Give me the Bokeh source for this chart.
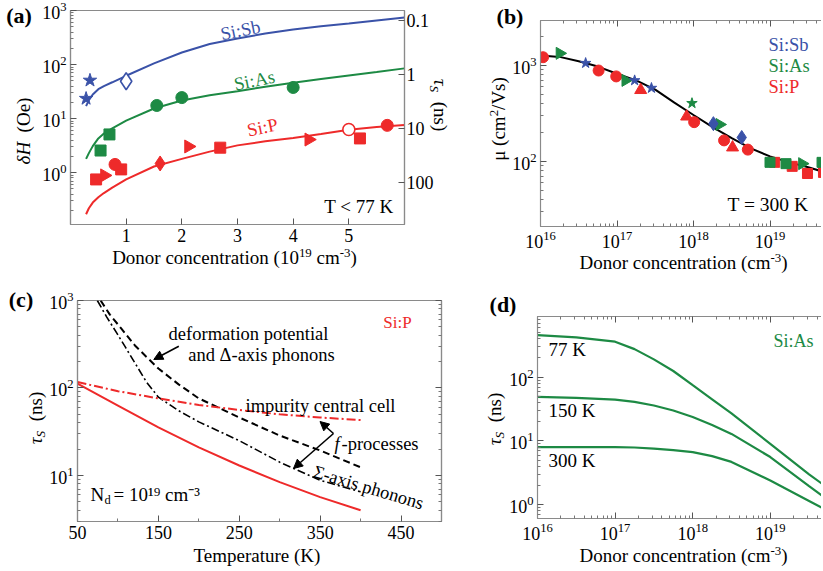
import math
from bokeh.plotting import figure
from bokeh.models import (Range1d, FixedTicker, LogAxis, LogScale, Label, Arrow,
                          NormalHead, CustomJSTickFormatter, Div, Spacer)
from bokeh.layouts import column, row
from bokeh.embed import file_html
from bokeh.resources import INLINE

FONT = "Liberation Serif"
BLUE = "#3a52a8"
GREEN = "#1d8a44"
RED = "#ee2a2a"
AXC = "#8a8a8a"

# ---------------- data: panel (a)  (x in 1e19 cm^-3, dH in Oe) ----------------
a_curve_x = [0.28, 0.33, 0.4, 0.5, 0.6, 0.75, 1.0, 1.5, 2.0, 2.5, 3.0, 3.5, 4.0, 4.5, 5.0, 5.5, 6.0]
a_sb_curve = [17, 22, 28, 35, 40, 47, 62, 105, 167, 240, 303, 375, 446, 510, 575, 655, 742]
a_as_curve = [1.8, 2.3, 3.1, 4.3, 5.3, 6.6, 9.2, 15.4, 21.6, 27, 32, 39, 46, 54, 63, 73, 85]
a_p_curve = [0.17, 0.22, 0.28, 0.35, 0.42, 0.53, 0.75, 1.3, 1.8, 2.45, 3.2, 3.8, 4.4, 5.2, 6.2, 7.0, 7.6]

a_sb_star_x = [0.28, 0.35]
a_sb_star_y = [23.5, 51]
a_sb_odiam_x = [1.0]
a_sb_odiam_y = [49]
a_as_circ_x = [1.55, 2.0, 4.0]
a_as_circ_y = [17.5, 24.5, 37.7]
a_as_sq_x = [0.54, 0.70]
a_as_sq_y = [2.57, 5.1]
a_p_sq_x = [0.46, 0.91, 2.69, 5.2]
a_p_sq_y = [0.75, 1.15, 2.9, 4.3]
a_p_tri_x = [0.61, 2.12, 4.28]
a_p_tri_y = [0.89, 3.05, 4.1]
a_p_circ_x = [0.80, 5.69]
a_p_circ_y = [1.42, 7.5]
a_p_diam_x = [1.61]
a_p_diam_y = [1.48]
a_p_ocirc_x = [5.0]
a_p_ocirc_y = [6.3]
a_tau_factor = 65.0  # tau_s (ns) = factor / dH (Oe)
a_x_ticks = [1, 2, 3, 4, 5]
a_tau_ticks = [0.1, 1, 10, 100]

# ---------------- data: panel (b)  mobility at 300 K ----------------
b_curve_n = [1e16, 1.78e16, 3.16e16, 5.62e16, 1e17, 1.78e17, 3.16e17, 5.62e17, 1e18,
             1.78e18, 3.16e18, 5.62e18, 1e19, 1.78e19, 3.16e19, 5e19]
b_curve_mu = [1275, 1230, 1110, 975, 820, 700, 560, 410, 305, 228, 175, 137, 113, 98, 87, 78]
b_p_circ_n = [1.08e16, 5.75e16, 9.77e16, 1.02e18, 2.51e18, 5.13e18]
b_p_circ_mu = [1220, 887, 770, 257, 166, 133]
b_p_tri_n = [2.04e17, 8.13e17, 3.24e18]
b_p_tri_mu = [555, 294, 140]
b_p_sq_n = [1.15e19, 1.95e19, 3.09e19, 5.0e19]
b_p_sq_mu = [98, 89, 75, 77]
b_as_tri_n = [1.78e16, 1.29e17, 2.19e18, 2.63e19]
b_as_tri_mu = [1340, 700, 243, 95]
b_as_star_n = [9.55e17]
b_as_star_mu = [405]
b_as_sq_n = [1.0e19, 1.62e19, 4.79e19]
b_as_sq_mu = [98, 95, 98]
b_sb_star_n = [3.89e16, 1.70e17, 2.82e17]
b_sb_star_mu = [1060, 700, 583]
b_sb_diam_n = [1.82e18, 4.27e18]
b_sb_diam_mu = [248, 178]

# ---------------- data: panel (c)  Si:P, Nd = 1e19 ----------------
c_def_t = [78.6, 90, 104, 121, 135, 150, 175, 200, 250, 300, 350, 400]
c_def_tau = [1000, 690, 480, 306, 228, 167, 110, 76, 46, 28.6, 19.3, 12.4]
c_sig_t = [74.5, 86, 99, 110, 120, 135, 150, 175, 200, 250, 300, 350, 400]
c_sig_tau = [1000, 650, 418, 285, 200, 118, 78.5, 55, 41, 25, 14.2, 8.8, 6.5]
c_t = [50, 100, 150, 200, 250, 300, 350, 400]
c_imp_tau = [117, 92, 76, 64, 56, 50, 46, 43]
c_tot_tau = [112, 63, 35.5, 21, 13, 8.4, 5.65, 4.0]
c_x_ticks = [50, 150, 250, 350, 450]
c_x_minor = [100, 200, 300, 400, 500]

# ---------------- data: panel (d)  Si:As ----------------
d_n = [1e16, 3.16e16, 1e17, 1.78e17, 3.16e17, 5.62e17, 1e18, 1.78e18, 3.16e18, 1e19, 3.16e19, 5e19]
d_77 = [457, 420, 360, 275, 190, 125, 75, 45, 27, 9.0, 3.0, 2.0]
d_150 = [49, 47.5, 44.6, 41, 36, 30, 23.7, 17.8, 12.9, 5.6, 1.96, 1.3]
d_300 = [8.0, 8.0, 8.0, 7.9, 7.6, 7.2, 6.7, 5.8, 4.7, 2.4, 1.15, 0.85]

# ---------------- page geometry (page has no margin; px from top-left) ----------------
PAGE_W, PAGE_H = 821, 567
LEFT_W = 478
ROW1_H = 282


# ---------------- helpers ----------------
def log_minors(lo, hi):
    return [m * 10.0 ** e for e in range(lo, hi) for m in range(2, 10)]


def conv_factory(fx0, fx1, fy0, fy1, xr, yr, xlog, ylog):
    def f(rx, ry):
        tx = (rx - fx0) / (fx1 - fx0)
        ty = (fy1 - ry) / (fy1 - fy0)
        if xlog:
            x = 10 ** (math.log10(xr[0]) + tx * (math.log10(xr[1]) - math.log10(xr[0])))
        else:
            x = xr[0] + tx * (xr[1] - xr[0])
        if ylog:
            y = 10 ** (math.log10(yr[0]) + ty * (math.log10(yr[1]) - math.log10(yr[0])))
        else:
            y = yr[0] + ty * (yr[1] - yr[0])
        return x, y
    return f


def txt(p, conv, rx, ry, text, size=18.5, color="black", align="left",
        baseline="middle", angle=0.0, style="normal"):
    x, y = conv(rx, ry)
    p.add_layout(Label(x=x, y=y, text=text, text_font=FONT,
                       text_font_size=f"{size}px", text_color=color,
                       text_align=align, text_baseline=baseline, angle=angle,
                       text_font_style=style))


def style_axis(ax, hide_labels=False):
    ax.axis_line_color = AXC
    ax.axis_line_width = 1.2
    ax.major_tick_line_color = "#555555"
    ax.minor_tick_line_color = "#777777"
    ax.major_tick_in = 6
    ax.major_tick_out = 0
    ax.minor_tick_in = 3
    ax.minor_tick_out = 0
    ax.major_label_text_font = FONT
    ax.major_label_text_font_size = "18px"
    ax.major_label_text_color = "black"
    ax.major_label_standoff = 4
    if hide_labels:
        ax.formatter = CustomJSTickFormatter(code="return '';")
        ax.major_label_text_font_size = "1px"
        ax.major_label_standoff = 0


def make_fig(w, h, xr, yr, xlog, ylog, bl, br, bt, bb):
    p = figure(width=w, height=h, x_range=Range1d(*xr), y_range=Range1d(*yr),
               x_axis_type="log" if xlog else "linear",
               y_axis_type="log" if ylog else "linear",
               output_backend="svg", toolbar_location=None,
               min_border_left=bl, min_border_right=br,
               min_border_top=bt, min_border_bottom=bb)
    p.grid.visible = False
    p.outline_line_color = AXC
    p.outline_line_width = 1.2
    p.background_fill_color = "white"
    p.border_fill_color = "white"
    for ax in p.xaxis + p.yaxis:
        style_axis(ax)
    return p


def place(fig, left, top):
    return row(fig, styles={"position": "absolute", "left": f"{left}px",
                            "top": f"{top}px"})


def html_text(cx, cy, html, size=19, rot=0, weight="normal", color="black"):
    return ('<div style="position:absolute;left:%.1fpx;top:%.1fpx;'
            'transform:translate(-50%%,-50%%) rotate(%ddeg);white-space:nowrap;'
            "font-family:'Liberation Serif',serif;font-size:%.1fpx;font-weight:%s;"
            'color:%s;line-height:1;margin:0;padding:0;">%s</div>'
            % (cx, cy, rot, size, weight, color, html))


SUP = '<span style="font-size:0.68em;vertical-align:0.5em;line-height:0">%s</span>'
SUB = '<span style="font-size:0.7em;vertical-align:-0.3em;line-height:0">%s</span>'
TAU_LABEL = "<i>τ" + SUB % "S" + "</i>&nbsp;&nbsp;(ns)"

# ================= panel (a) =================
A_XR = (0, 6)
A_YR = (0.11, 1000)
pa = make_fig(LEFT_W, ROW1_H, A_XR, A_YR, False, True, 70, LEFT_W - 404, 10, ROW1_H - 224)
ca = conv_factory(70, 404, 10, 224, A_XR, A_YR, False, True)
pa.xaxis.ticker = FixedTicker(ticks=a_x_ticks, minor_ticks=[])
pa.yaxis.ticker = FixedTicker(ticks=[1, 10, 100, 1000], minor_ticks=log_minors(-1, 3))
pa.extra_y_ranges = {"tau": Range1d(a_tau_factor / A_YR[0], a_tau_factor / A_YR[1])}
pa.extra_y_scales = {"tau": LogScale()}
rax = LogAxis(y_range_name="tau", ticker=FixedTicker(ticks=a_tau_ticks, minor_ticks=[]))
style_axis(rax)
rax.formatter = CustomJSTickFormatter(code="return tick >= 1 ? tick.toFixed(0) : tick.toFixed(1);")
rax.major_label_standoff = 2
pa.add_layout(rax, "right")

pa.line(a_curve_x, a_sb_curve, line_color=BLUE, line_width=2)
pa.line(a_curve_x, a_as_curve, line_color=GREEN, line_width=2)
pa.line(a_curve_x, a_p_curve, line_color=RED, line_width=2)
pa.scatter(a_sb_star_x, a_sb_star_y, marker="star", size=14, color=BLUE)
pa.scatter(a_sb_odiam_x, a_sb_odiam_y, marker="diamond", size=17, fill_color="white",
           line_color=BLUE, line_width=1.6)
pa.scatter(a_as_circ_x, a_as_circ_y, marker="circle", size=12, color=GREEN)
pa.scatter(a_as_sq_x, a_as_sq_y, marker="square", size=11, color=GREEN)
pa.scatter(a_p_sq_x, a_p_sq_y, marker="square", size=11, color=RED)
pa.scatter(a_p_tri_x, a_p_tri_y, marker="triangle", size=13, angle=-math.pi / 2, color=RED)
pa.scatter(a_p_circ_x, a_p_circ_y, marker="circle", size=12, color=RED)
pa.scatter(a_p_diam_x, a_p_diam_y, marker="diamond", size=15, color=RED)
pa.scatter(a_p_ocirc_x, a_p_ocirc_y, marker="circle", size=12, fill_color="white",
           line_color=RED, line_width=1.6)

txt(pa, ca, 240, 30, "Si:Sb", color=BLUE, align="center", angle=0.2)
txt(pa, ca, 254, 80, "Si:As", color=GREEN, align="center", angle=0.2)
txt(pa, ca, 262, 127, "Si:P", color=RED, align="center", angle=0.2)
txt(pa, ca, 393, 206, "T < 77 K", size=19, align="right")

# ================= panel (b) =================
B_W = PAGE_W - LEFT_W
B_XR = (1e16, 10 ** (16 + (PAGE_W - 540) / 76.5))
B_YR = (10 ** 1.323, 10 ** 3.469)
pb = make_fig(B_W, ROW1_H, B_XR, B_YR, True, True, 540 - LEFT_W, 0, 20, ROW1_H - 226)
cb = conv_factory(540, PAGE_W, 20, 226, B_XR, B_YR, True, True)
pb.outline_line_color = None
pb.xaxis.ticker = FixedTicker(ticks=[1e16, 1e17, 1e18, 1e19], minor_ticks=log_minors(16, 20))
pb.yaxis.ticker = FixedTicker(ticks=[100, 1000], minor_ticks=log_minors(1, 4))
tb = LogAxis(ticker=FixedTicker(ticks=[1e16, 1e17, 1e18, 1e19], minor_ticks=log_minors(16, 20)))
style_axis(tb, hide_labels=True)
pb.add_layout(tb, "above")

pb.line(b_curve_n, b_curve_mu, line_color="black", line_width=2)
pb.scatter(b_p_circ_n, b_p_circ_mu, marker="circle", size=11, color=RED)
pb.scatter(b_p_tri_n, b_p_tri_mu, marker="triangle", size=12, color=RED)
pb.scatter(b_p_sq_n, b_p_sq_mu, marker="square", size=10, color=RED)
pb.scatter(b_as_tri_n, b_as_tri_mu, marker="triangle", size=12, angle=-math.pi / 2, color=GREEN)
pb.scatter(b_as_star_n, b_as_star_mu, marker="star", size=11, color=GREEN)
pb.scatter(b_as_sq_n, b_as_sq_mu, marker="square", size=10, color=GREEN)
pb.scatter(b_sb_star_n, b_sb_star_mu, marker="star", size=11, color=BLUE)
pb.scatter(b_sb_diam_n, b_sb_diam_mu, marker="diamond", size=14, color=BLUE)

txt(pb, cb, 768, 44, "Si:Sb", color=BLUE)
txt(pb, cb, 768, 65, "Si:As", color=GREEN)
txt(pb, cb, 768, 86, "Si:P", color=RED)
txt(pb, cb, 727, 204, "T = 300 K", size=19.5)

# ================= panel (c) =================
ROW2_H = PAGE_H - ROW1_H
C_XR = (50, 500)
C_YR = (10 ** 0.474, 1000)
pc = make_fig(LEFT_W, ROW2_H, C_XR, C_YR, False, True, 77, LEFT_W - 441,
              300 - ROW1_H, PAGE_H - 521)
cc = conv_factory(77, 441, 300, 521, C_XR, C_YR, False, True)
pc.xaxis.ticker = FixedTicker(ticks=c_x_ticks, minor_ticks=c_x_minor)
pc.yaxis.ticker = FixedTicker(ticks=[10, 100, 1000], minor_ticks=log_minors(0, 3))
rc = LogAxis(ticker=FixedTicker(ticks=[10, 100, 1000], minor_ticks=log_minors(0, 3)))
style_axis(rc, hide_labels=True)
pc.add_layout(rc, "right")

pc.line(c_def_t, c_def_tau, line_color="black", line_width=2, line_dash="7 4")
pc.line(c_sig_t, c_sig_tau, line_color="black", line_width=1.6, line_dash="8 3 2 3")
pc.line(c_t, c_imp_tau, line_color=RED, line_width=2, line_dash="9 3 2 3")
pc.line(c_t, c_tot_tau, line_color=RED, line_width=2)

txt(pc, cc, 248, 333, "deformation potential", align="center")
txt(pc, cc, 261, 354, "and Δ-axis phonons", align="center")
txt(pc, cc, 320, 405, "impurity central cell", align="center")
txt(pc, cc, 334, 443, "f", style="italic")
txt(pc, cc, 341, 443, "-processes")
txt(pc, cc, 368, 487, "Σ-axis phonons", align="center", angle=-0.29)
txt(pc, cc, 90, 494, "N", size=19)
txt(pc, cc, 104, 499, "d", size=12.5)
txt(pc, cc, 113, 494, "= 10¹⁹ cm⁻³", size=19)
txt(pc, cc, 397, 322, "Si:P", size=17, color=RED, align="center")

for (tx, ty, hx, hy) in [(178.3, 345.7, 153.3, 359.0),
                         (333.0, 433.0, 319.5, 421.0),
                         (333.0, 433.0, 293.0, 468.0)]:
    x0, y0 = cc(tx, ty)
    x1, y1 = cc(hx, hy)
    pc.add_layout(Arrow(end=NormalHead(size=9, fill_color="black", line_color="black"),
                        x_start=x0, y_start=y0, x_end=x1, y_end=y1,
                        line_color="black", line_width=1.6))

# ================= panel (d) =================
D_W = PAGE_W - LEFT_W
D_XR = (1e16, 10 ** (16 + (PAGE_W - 537) / 77.6))
D_YR = (10 ** -0.215, 10 ** 2.951)
pd_ = make_fig(D_W, ROW2_H, D_XR, D_YR, True, True, 537 - LEFT_W, 0,
               316 - ROW1_H, PAGE_H - 518)
cd = conv_factory(537, PAGE_W, 316, 518, D_XR, D_YR, True, True)
pd_.outline_line_color = None
pd_.xaxis.ticker = FixedTicker(ticks=[1e16, 1e17, 1e18, 1e19], minor_ticks=log_minors(16, 20))
pd_.yaxis.ticker = FixedTicker(ticks=[1, 10, 100], minor_ticks=log_minors(-1, 3))
td = LogAxis(ticker=FixedTicker(ticks=[1e16, 1e17, 1e18, 1e19], minor_ticks=log_minors(16, 20)))
style_axis(td, hide_labels=True)
pd_.add_layout(td, "above")

for ys in (d_77, d_150, d_300):
    pd_.line(d_n, ys, line_color=GREEN, line_width=2.2)

txt(pd_, cd, 548, 349, "77 K", size=19)
txt(pd_, cd, 548, 410, "150 K", size=19)
txt(pd_, cd, 548, 460, "300 K", size=19)
txt(pd_, cd, 773, 340, "Si:As", size=18, color=GREEN)

# ================= outer texts: panel letters and axis titles =================
outer = "".join([
    html_text(19, 16, "(a)", size=22, weight="bold"),
    html_text(510, 16.5, "(b)", size=22, weight="bold"),
    html_text(21, 299.5, "(c)", size=22, weight="bold"),
    html_text(503, 305, "(d)", size=22, weight="bold"),
    html_text(234.5, 257, "Donor concentration (10" + SUP % "19" + " cm" + SUP % "-3" + ")"),
    html_text(23, 131, "<i>δH</i>&nbsp;&nbsp;(Oe)", rot=-90),
    html_text(440, 105, TAU_LABEL, rot=90),
    html_text(683.5, 262, "Donor concentration (cm" + SUP % "-3" + ")"),
    html_text(498, 118.5, "μ (cm" + SUP % "2" + "/Vs)", rot=-90),
    html_text(257, 555, "Temperature (K)"),
    html_text(35, 417.5, TAU_LABEL, rot=-90),
    html_text(683.5, 554.5, "Donor concentration (cm" + SUP % "-3" + ")"),
    html_text(494, 419, TAU_LABEL, rot=-90),
])
overlay = Div(text=outer, width=PAGE_W, height=PAGE_H, margin=(0, 0, 0, 0),
              styles={"position": "absolute", "left": "0px", "top": "0px",
                      "z-index": "10", "pointer-events": "none"})

layout = column(Spacer(width=PAGE_W, height=PAGE_H),
                place(pa, 0, 0), place(pb, LEFT_W, 0),
                place(pc, 0, ROW1_H), place(pd_, LEFT_W, ROW1_H),
                overlay)
open("out.html", "w").write(file_html(layout, INLINE))
